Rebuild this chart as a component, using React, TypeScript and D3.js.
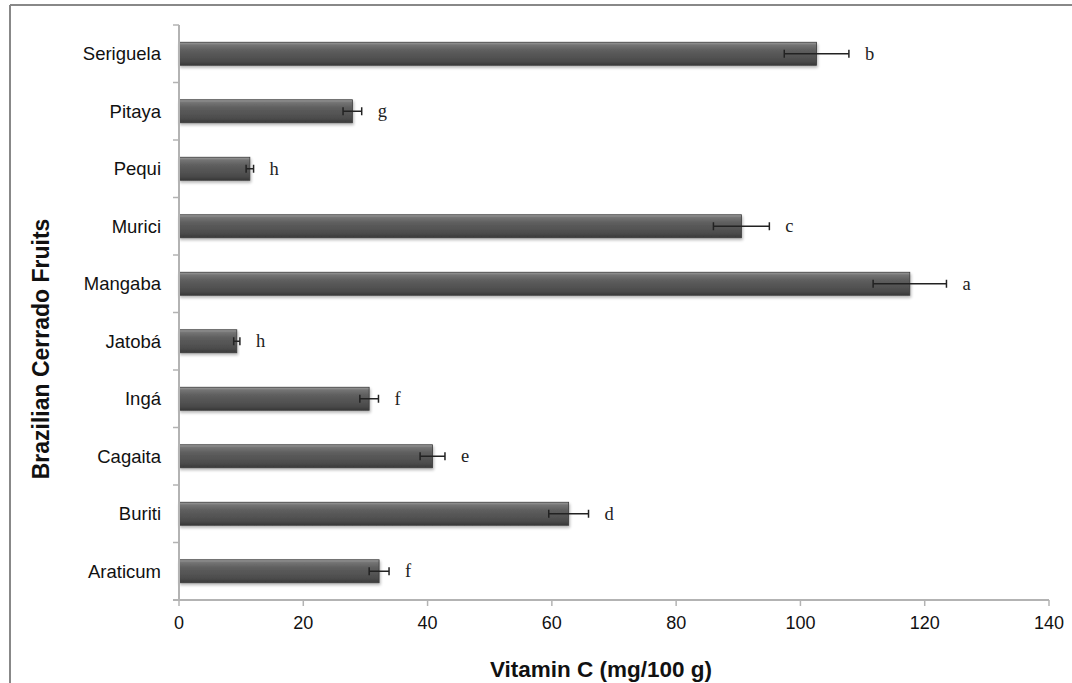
import React from "react";
import * as d3 from "d3";

const categories = ["Seriguela", "Pitaya", "Pequi", "Murici", "Mangaba", "Jatobá", "Ingá", "Cagaita", "Buriti", "Araticum"];
const values = [102.6, 27.9, 11.4, 90.5, 117.6, 9.3, 30.6, 40.8, 62.7, 32.2];
const errors = [5.2, 1.5, 0.6, 4.5, 5.9, 0.5, 1.5, 2.0, 3.2, 1.6];
const letters = ["b", "g", "h", "c", "a", "h", "f", "e", "d", "f"];
const xTicks = [0, 20, 40, 60, 80, 100, 120, 140];

const W = 1072;
const H = 683;
const left = 179;
const right = 1049;
const top = 25;
const bottom = 600;

export default function App() {
  const x = d3.scaleLinear().domain([0, 140]).range([left, right]);
  const y = d3.scaleBand<string>().domain(categories).range([top, bottom]).paddingInner(0.6).paddingOuter(0.3);
  const step = y.step();
  const bw = y.bandwidth();
  const axisColor = "#b3b3b3";
  const sans = "'Liberation Sans', Arial, sans-serif";
  const serif = "'Liberation Serif', 'Times New Roman', serif";

  return (
    <svg width={W} height={H} style={{ position: "absolute", left: 0, top: 0, background: "#fff" }}>
      <defs>
        <linearGradient id="barGrad" x1="0" y1="0" x2="0" y2="1">
          <stop offset="0" stopColor="#a0a0a0" />
          <stop offset="0.12" stopColor="#747474" />
          <stop offset="0.35" stopColor="#5e5e5e" />
          <stop offset="0.8" stopColor="#4c4c4c" />
          <stop offset="1" stopColor="#3a3a3a" />
        </linearGradient>
        <filter id="shadow" x="-5%" y="-30%" width="110%" height="160%">
          <feGaussianBlur in="SourceAlpha" stdDeviation="1.5" />
          <feOffset dx="1" dy="2" result="o" />
          <feComponentTransfer><feFuncA type="linear" slope="0.3" /></feComponentTransfer>
          <feMerge><feMergeNode /><feMergeNode in="SourceGraphic" /></feMerge>
        </filter>
      </defs>
      {/* frame */}
      <line x1={10} y1={5} x2={W} y2={5} stroke="#888" strokeWidth={2} />
      <line x1={10} y1={5} x2={10} y2={H} stroke="#888" strokeWidth={2} />

      {/* bars */}
      {categories.map((c, i) => {
        const y0 = y(c)!;
        const xe = x(values[i]);
        const cy = y0 + bw / 2;
        const e0 = x(values[i] - errors[i]);
        const e1 = x(values[i] + errors[i]);
        return (
          <g key={c}>
            <rect x={x(0)} y={y0} width={xe - x(0)} height={bw} fill="url(#barGrad)" stroke="#3a3a3a" strokeWidth={0.8} filter="url(#shadow)" />
            <line x1={e0} x2={e1} y1={cy} y2={cy} stroke="#222" strokeWidth={1.5} />
            <line x1={e0} x2={e0} y1={cy - 4} y2={cy + 4} stroke="#222" strokeWidth={1.5} />
            <line x1={e1} x2={e1} y1={cy - 4} y2={cy + 4} stroke="#222" strokeWidth={1.5} />
            <text x={e1 + 16} y={cy} dy="0.32em" fontFamily={serif} fontSize={18.5} fill="#222">{letters[i]}</text>
            <text x={161} y={cy} dy="0.35em" textAnchor="end" fontFamily={sans} fontSize={18.5} fill="#111">{c}</text>
          </g>
        );
      })}

      {/* y axis */}
      <line x1={left} x2={left} y1={top} y2={bottom} stroke={axisColor} strokeWidth={2} />
      {d3.range(categories.length + 1).map((i) => (
        <line key={i} x1={left - 6} x2={left} y1={top + i * step} y2={top + i * step} stroke={axisColor} strokeWidth={1.5} />
      ))}

      {/* x axis */}
      <line x1={left - 6} x2={right} y1={bottom} y2={bottom} stroke={axisColor} strokeWidth={2} />
      {xTicks.map((t) => (
        <g key={t}>
          <line x1={x(t)} x2={x(t)} y1={bottom} y2={bottom + 6} stroke={axisColor} strokeWidth={1.5} />
          <text x={x(t)} y={623} dy="0.35em" textAnchor="middle" fontFamily={sans} fontSize={18} fill="#111">{t}</text>
        </g>
      ))}

      {/* axis titles */}
      <text x={601} y={677} textAnchor="middle" fontFamily={sans} fontWeight="bold" fontSize={22.5} fill="#111">Vitamin C (mg/100 g)</text>
      <text transform={`translate(49,349) rotate(-90)`} textAnchor="middle" fontFamily={sans} fontWeight="bold" fontSize={23} fill="#111">Brazilian Cerrado Fruits</text>
    </svg>
  );
}
